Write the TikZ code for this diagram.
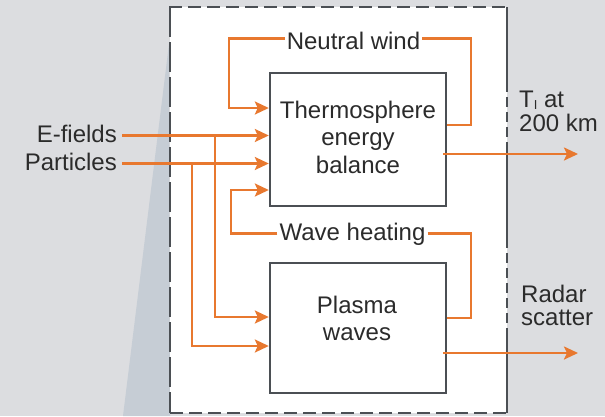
\documentclass[tikz,border=0pt]{standalone}
\usepackage{fontspec}
\setmainfont{Liberation Sans}
\usetikzlibrary{arrows.meta}
\definecolor{bg}{HTML}{DCDDE0}
\definecolor{wedge}{HTML}{C6CDD5}
\definecolor{org}{HTML}{E8782F}
\definecolor{edge}{HTML}{4B4F54}
\definecolor{txt}{HTML}{2B2B2B}
\begin{document}
\begin{tikzpicture}[x=1pt,y=-1pt,
  box/.style={draw=edge,line width=2.4pt,minimum width=176pt,inner sep=0pt},
  lbl/.style={text=txt,font=\fontsize{24}{27.5}\selectfont,inner sep=0pt},
  outlbl/.style={lbl,align=left,anchor=north west,font=\fontsize{24}{23.5}\selectfont},
  link/.style={draw=org,line width=2.4pt},
  arr/.style={link,-{Stealth[length=14pt,width=13pt,inset=3pt]}},
  border/.style={draw=edge,line width=2.6pt}
]
\useasboundingbox (0,0) rectangle (605,416);
\fill[bg] (0,0) rectangle (605,416);
\fill[white] (170,7) rectangle (507,413);
\fill[wedge] (169,44) -- (123,416) -- (170,416) -- cycle;

% dashed border
\draw[border, dash pattern=on 13pt off 6pt] (169,7) -- (507,7);
\draw[border, dash pattern=on 13pt off 6pt] (170,413) -- (507,413);
\draw[border, dash pattern=on 30pt off 5pt] (170,7) -- (170,413);
\draw[border] (507,7) -- (507,82);
\draw[border, dash pattern=on 10pt off 5pt] (507,82) -- (507,152);
\draw[border] (507,152) -- (507,238);
\draw[border, dash pattern=on 10pt off 5pt] (507,238) -- (507,336);
\draw[border] (507,336) -- (507,413);

% boxes
\node[box, minimum height=133pt] (thermo) at (358,139.5) {};
\node[box, minimum height=130pt] (plasma) at (358,328) {};
\node[lbl, align=center, anchor=north] (thermotxt) at (358,100.8) {Thermosphere\\energy\\balance};
\node[lbl, align=center, anchor=north] (plasmatxt) at (357,295.8) {Plasma\\waves};

% labels
\node[lbl, anchor=base, inner xsep=2pt, text height=21pt, text depth=0pt] (nw) at (353.5,49) {Neutral wind};
\node[lbl, anchor=base, inner xsep=2pt, text height=13.4pt, text depth=0pt] (wh) at (352.5,240) {Wave heating};
\node[lbl, anchor=base east, inner xsep=5pt, text height=13pt, text depth=0pt] (ef) at (122,142) {E-fields};
\node[lbl, anchor=base east, inner xsep=5pt, text height=13pt, text depth=0pt] (pa) at (122,170) {Particles};
\node[outlbl] (tl) at (519,90.8) {T\raisebox{-1.5pt}{\fontsize{13}{13}\selectfont I} at\\200 km};
\node[outlbl] (rl) at (521,284.8) {Radar\\scatter};

% connectors
\coordinate (j1) at (215,0 |- ef.east);
\coordinate (j2) at (192,0 |- pa.east);
\coordinate (nwL) at (229,0 |- nw.west);
\coordinate (nwR) at (471,0 |- nw.east);
\coordinate (whL) at (231,0 |- wh.west);
\coordinate (whR) at (471,0 |- wh.east);
\coordinate (tout) at (578,154);
\coordinate (rout) at (578,353);

\draw[arr] (ef.east) -- (ef.east -| thermo.west);
\draw[arr] (pa.east) -- (pa.east -| thermo.west);
\draw[arr] (j1) |- ([yshift=11pt]plasma.west);
\draw[arr] (j2) |- ([yshift=-18pt]plasma.west);
\draw[arr] (nw.west) -- (nwL) |- ([yshift=31.5pt]thermo.west);
\draw[link] (nw.east) -- (nwR) |- ([yshift=14.5pt]thermo.east);
\draw[arr] (wh.west) -- (whL) |- ([yshift=-50.5pt]thermo.west);
\draw[link] (wh.east) -- (whR) |- ([yshift=10pt]plasma.east);
\draw[arr] ([xshift=-4pt,yshift=-14.5pt]thermo.east) -- (tout);
\draw[arr] ([xshift=-4pt,yshift=-25pt]plasma.east) -- (rout);
\end{tikzpicture}
\end{document}
